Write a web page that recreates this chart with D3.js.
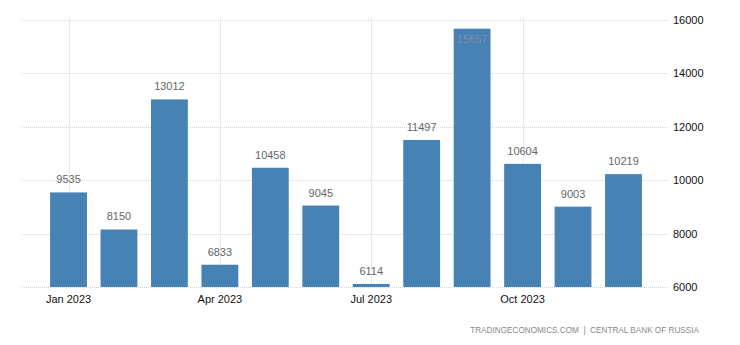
<!DOCTYPE html>
<html>
<head>
<meta charset="utf-8">
<script src="https://cdn.jsdelivr.net/npm/d3@7"></script>
<style>
  html, body { margin: 0; padding: 0; background: #fff; }
  svg { display: block; font-family: "Liberation Sans", Arial, sans-serif; }
</style>
</head>
<body>
<svg id="chart" width="740" height="345"></svg>
<script>
// Monthly values, 2023
const months = ["Jan", "Feb", "Mar", "Apr", "May", "Jun", "Jul", "Aug", "Sep", "Oct", "Nov", "Dec"];
const values = [9535, 8150, 13012, 6833, 10458, 9045, 6114, 11497, 15657, 10604, 9003, 10219];
const yTicks = [6000, 8000, 10000, 12000, 14000, 16000];
const xTickMonths = ["Jan", "Apr", "Jul", "Oct"];
const xTickLabels = ["Jan 2023", "Apr 2023", "Jul 2023", "Oct 2023"];
const sourceText = "TRADINGECONOMICS.COM  |  CENTRAL BANK OF RUSSIA";

const svg = d3.select("#chart");

const plotLeft = 22, plotRight = 668, plotTop = 19.5, plotBottom = 287;

const x = d3.scaleBand()
  .domain(months)
  .range([43.3, 648.7])
  .paddingInner(0.27)
  .paddingOuter(0.135);

const y = d3.scaleLinear()
  .domain([6000, 16000])
  .range([plotBottom, plotTop]);

// horizontal grid
svg.append("g")
  .selectAll("line")
  .data(yTicks)
  .join("line")
  .attr("x1", plotLeft)
  .attr("x2", plotRight)
  .attr("y1", d => Math.round(y(d)) + 0.5)
  .attr("y2", d => Math.round(y(d)) + 0.5)
  .attr("stroke", "#d4d4d4")
  .attr("stroke-width", 1)
  .attr("stroke-dasharray", "1,1");

// vertical grid at quarter ticks
svg.append("g")
  .selectAll("line")
  .data(xTickMonths)
  .join("line")
  .attr("x1", d => Math.round(x(d) + x.bandwidth() / 2) + 0.5)
  .attr("x2", d => Math.round(x(d) + x.bandwidth() / 2) + 0.5)
  .attr("y1", plotTop)
  .attr("y2", plotBottom)
  .attr("stroke", "#d4d4d4")
  .attr("stroke-width", 1)
  .attr("stroke-dasharray", "1,1");

// bars
svg.append("g")
  .selectAll("rect")
  .data(values)
  .join("rect")
  .attr("x", (d, i) => x(months[i]))
  .attr("width", x.bandwidth())
  .attr("y", d => y(d))
  .attr("height", d => y(6000) - y(d))
  .attr("fill", "#4682b4");

// value labels: above the bar, or inside it when there is no room above
const fitsAbove = d => y(d) - 18 >= plotTop;
svg.append("g")
  .selectAll("text")
  .data(values)
  .join("text")
  .attr("x", (d, i) => x(months[i]) + x.bandwidth() / 2)
  .attr("y", d => fitsAbove(d) ? y(d) - 9 : y(d) + 14)
  .attr("text-anchor", "middle")
  .attr("font-size", 11)
  .attr("fill", d => fitsAbove(d) ? "#666" : "#7d8fa3")
  .text(d => d);

// right y axis labels
const yAxis = d3.axisRight(y).tickValues(yTicks).tickSize(0).tickPadding(0).tickFormat(d3.format("d"));
const gy = svg.append("g")
  .attr("transform", `translate(673,0)`)
  .call(yAxis);
gy.select(".domain").remove();
gy.selectAll("text")
  .attr("font-size", 11)
  .attr("font-family", "Liberation Sans, Arial, sans-serif")
  .attr("fill", "#111");

// bottom x axis labels
const xAxis = d3.axisBottom(x)
  .tickValues(xTickMonths)
  .tickSize(0)
  .tickPadding(0)
  .tickFormat(d => xTickLabels[xTickMonths.indexOf(d)]);
const gx = svg.append("g")
  .attr("transform", `translate(0,${plotBottom + 8})`)
  .call(xAxis);
gx.select(".domain").remove();
gx.selectAll("text")
  .attr("font-size", 11)
  .attr("font-family", "Liberation Sans, Arial, sans-serif")
  .attr("fill", "#111");

// source note
svg.append("text")
  .attr("x", 699)
  .attr("y", 333)
  .attr("text-anchor", "end")
  .attr("font-size", 8.2)
  .attr("fill", "#888")
  .attr("xml:space", "preserve")
  .style("white-space", "pre")
  .text(sourceText);
</script>
</body>
</html>
